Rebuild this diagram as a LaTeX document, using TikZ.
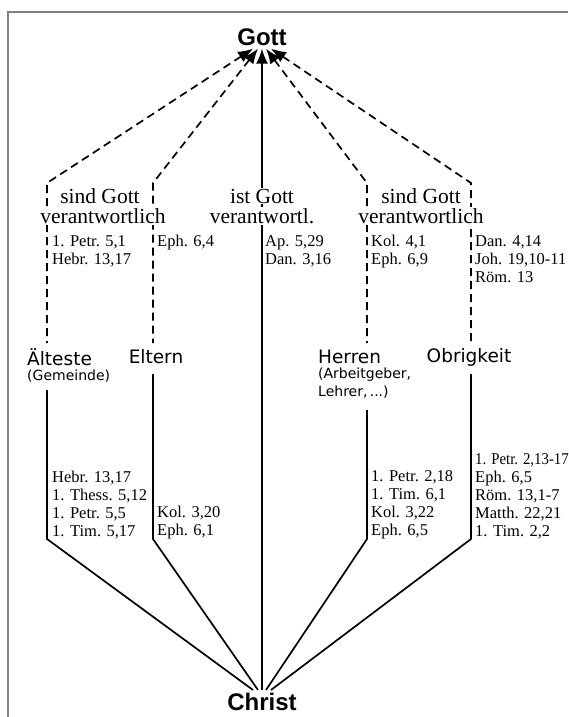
\documentclass[tikz,border=0pt]{standalone}
\usepackage{fontspec}
\setmainfont{Liberation Serif}
\newfontfamily\labelfont{DejaVu Sans}
\newfontfamily\headfont{Liberation Sans}
\usetikzlibrary{arrows.meta,positioning}

\tikzset{
    head/.style={font=\headfont\bfseries\fontsize{24}{26}\selectfont, inner sep=3pt},
    lbl/.style={font=\labelfont\fontsize{18.5}{20}\selectfont, inner sep=0pt},
    sublbl/.style={font=\labelfont\fontsize{14}{18}\selectfont, inner sep=0pt, align=left},
    resp/.style={font=\fontsize{21.5}{22}\selectfont, fill=white, inner sep=1pt},
    refs/.style={font=\fontsize{16.5}{18}\selectfont, inner sep=0pt, align=left},
    dashline/.style={line width=1.7pt, dash pattern=on 8pt off 5pt, {Latex[length=15pt,width=12pt]}-},
    solidline/.style={line width=1.7pt},
}

\begin{document}
\begin{tikzpicture}[x=1pt,y=-1pt]
    \useasboundingbox (0,0) rectangle (568,717);
    \draw[gray, line width=1.2pt] (8,717) -- (8,12) -- (568,12);

    \node[head] (gott) at (262,37) {Gott};
    \node[head] (christ) at (262,702) {Christ};

    % branches: corner, end of dashed part, start and end of solid part
    \foreach \n/\x/\e in {1/47/390, 2/153/374, 4/367/410, 5/471/374}{
        \coordinate (c\n) at (\x,183);
        \coordinate (d\n) at (\x,343);
        \coordinate (e\n) at (\x,\e);
        \coordinate (f\n) at (\x,539);
    }
    \foreach \n/\s in {1/-9, 2/-4, 4/4, 5/9}{
        \draw[dashline] ([xshift=\s pt]gott.south) -- (c\n) -- (d\n);
        \draw[solidline] (e\n) -- (f\n) -- ([xshift=\s pt]christ.north);
    }
    \draw[solidline, -{Latex[length=15pt,width=12pt]}] (christ.north) -- (gott.south);

    \node[resp] (sg1) at (100,196) {sind Gott};
    \node[resp] (va1) at (103,216) {verantwortlich};
    \node[resp] (sg3) at (262,196) {ist Gott};
    \node[resp] (va3) at (262,216) {verantwortl.};
    \node[resp] (sg4) at (421,196) {sind Gott};
    \node[resp] (va4) at (421,216) {verantwortlich};

    \node[refs, anchor=north west] (r1) at (52,235) {1. Petr. 5,1\\Hebr. 13,17};
    \node[refs, anchor=north west] (r2) at (157,235) {Eph. 6,4};
    \node[refs, anchor=north west] (r3) at (265,235) {Ap. 5,29\\Dan. 3,16};
    \node[refs, anchor=north west] (r4) at (371,235) {Kol. 4,1\\Eph. 6,9};
    \node[refs, anchor=north west] (r5) at (475,235) {Dan. 4,14\\Joh. 19,10-11\\Röm. 13};

    \node[lbl, anchor=west] (aelt) at (27,357) {Älteste};
    \node[sublbl, below right=4pt and 0pt of aelt.south west] (gem) {(Gemeinde)};
    \node[lbl] (eltern) at (156,357) {Eltern};
    \node[lbl, anchor=west] (herren) at (318,357) {Herren};
    \node[sublbl, below right=4pt and 0pt of herren.south west] (arb) {(Arbeitgeber,\\Lehrer,\,...)};
    \node[lbl] (obr) at (469,357) {Obrigkeit};

    \node[refs, anchor=south west] (s1) at (52,539) {Hebr. 13,17\\1. Thess. 5,12\\1. Petr. 5,5\\1. Tim. 5,17};
    \node[refs, anchor=south west] (s2) at (157,539) {Kol. 3,20\\Eph. 6,1};
    \node[refs, anchor=south west] (s4) at (371,539) {1. Petr. 2,18\\1. Tim. 6,1\\Kol. 3,22\\Eph. 6,5};
    \node[refs, anchor=south west] (s5) at (475,539) {\scalebox{0.9}[1]{1. Petr. 2,13-17}\\Eph. 6,5\\Röm. 13,1-7\\Matth. 22,21\\1. Tim. 2,2};
\end{tikzpicture}
\end{document}
